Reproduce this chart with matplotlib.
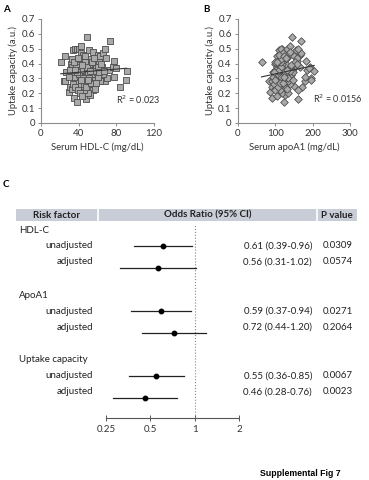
import numpy as np
import matplotlib.pyplot as plt
from matplotlib.patches import Rectangle

plt.rcParams['font.family'] = ['Lato', 'DejaVu Sans']

# scatter data: serum HDL-C, serum apoA1, uptake capacity
hdl = [21, 26, 24, 25, 27, 30, 31, 33, 34, 35, 36, 38, 38, 40, 43, 49, 48, 51, 55, 55,
       60, 63, 66, 68, 69, 73, 68, 70, 72, 76, 78, 78, 84, 90, 91, 80, 65, 58, 57, 55,
       52, 50, 46, 32, 33, 34, 35, 36, 37, 38, 39, 40, 41, 42, 43, 44, 45, 46, 47, 48,
       49, 50, 51, 52, 53, 54, 56, 57, 58, 59, 60, 62, 63, 64, 66, 34, 36, 39, 41, 44,
       46, 48, 50, 53, 55, 37, 40, 42, 45, 47, 49, 51, 54, 56, 58, 61, 30, 31, 33, 35,
       43, 45, 47, 39, 52, 57, 60, 62, 64, 67, 38, 44, 50, 36, 42]
apoa1 = [63, 104, 82, 90, 95, 86, 92, 98, 110, 92, 117, 122, 115, 130, 138, 144, 160, 155, 138, 157,
         166, 150, 170, 160, 157, 170, 180, 195, 184, 193, 182, 180, 172, 195, 204, 190, 165, 140, 150, 162,
         125, 118, 112, 100, 105, 108, 112, 100, 118, 106, 110, 121, 115, 125, 108, 130, 118, 122, 135, 114,
         128, 140, 120, 132, 145, 126, 136, 118, 148, 130, 142, 152, 135, 145, 128, 96, 126, 100, 135, 104,
         118, 108, 126, 112, 122, 112, 104, 140, 128, 100, 116, 134, 116, 128, 120, 138, 94, 102, 114, 104,
         120, 110, 124, 128, 106, 132, 124, 146, 158, 140, 96, 142, 146, 132, 98]
uptake = [0.41, 0.45, 0.28, 0.28, 0.34, 0.21, 0.24, 0.23, 0.49, 0.17, 0.50, 0.14, 0.50, 0.50, 0.52, 0.58, 0.16, 0.49, 0.48, 0.42,
          0.46, 0.45, 0.47, 0.50, 0.44, 0.55, 0.28, 0.30, 0.36, 0.38, 0.42, 0.31, 0.24, 0.29, 0.35, 0.37, 0.38, 0.30, 0.25, 0.22,
          0.19, 0.20, 0.22, 0.40, 0.38, 0.36, 0.33, 0.30, 0.27, 0.42, 0.39, 0.35, 0.31, 0.28, 0.25, 0.44, 0.40, 0.37, 0.34, 0.31,
          0.28, 0.26, 0.43, 0.39, 0.36, 0.33, 0.29, 0.40, 0.37, 0.34, 0.32, 0.41, 0.28, 0.36, 0.33, 0.26, 0.24, 0.22, 0.20, 0.18,
          0.26, 0.24, 0.33, 0.27, 0.35, 0.38, 0.33, 0.36, 0.30, 0.41, 0.38, 0.30, 0.41, 0.44, 0.27, 0.38, 0.31, 0.36, 0.43, 0.41,
          0.47, 0.46, 0.45, 0.44, 0.35, 0.23, 0.31, 0.34, 0.40, 0.35, 0.34, 0.39, 0.29, 0.36, 0.29]

# forest plot data
groups = ["HDL-C", "ApoA1", "Uptake capacity"]
subrows = ["unadjusted", "adjusted"]
odds = [0.61, 0.56, 0.59, 0.72, 0.55, 0.46]
ci_low = [0.39, 0.31, 0.37, 0.44, 0.36, 0.28]
ci_high = [0.96, 1.02, 0.94, 1.20, 0.85, 0.76]
pvals = ["0.0309", "0.0574", "0.0271", "0.2064", "0.0067", "0.0023"]
or_ticks = [0.25, 0.5, 1, 2]

W, H = 369, 480
fig = plt.figure(figsize=(W / 100, H / 100), dpi=100)


def box(x0, y0, x1, y1):
    # pixel box (top-left origin) -> figure fraction rect
    return [x0 / W, 1 - y1 / H, (x1 - x0) / W, (y1 - y0) / H]


def ftext(x, y, s, **kw):
    fig.text(x / W, 1 - y / H, s, **kw)


spine_col = '#8c8c8c'
fs_tick = 7


def style_scatter(ax, xticks, xlim):
    ax.set_xlim(xlim)
    ax.set_ylim(0, 0.7)
    ax.set_xticks(xticks)
    ax.set_yticks(np.arange(0, 0.71, 0.1))
    ax.set_yticklabels(['0'] + ['%.1f' % v for v in np.arange(0.1, 0.71, 0.1)])
    for s in ['top', 'right']:
        ax.spines[s].set_visible(False)
    for s in ['left', 'bottom']:
        ax.spines[s].set_color(spine_col)
        ax.spines[s].set_linewidth(0.8)
    ax.tick_params(labelsize=fs_tick, length=2.5, width=0.7, color=spine_col,
                   pad=2, colors='#333333')
    ax.set_ylabel("Uptake capacity (a.u.)", fontsize=6.8, labelpad=2, color='#333333')


# Panel A
axA = fig.add_axes(box(41, 19, 154, 123))
axA.scatter(hdl, uptake, marker='s', s=24, facecolor='#a9a9a9', edgecolor='#4d4d4d',
            linewidths=0.6, zorder=2)
c = np.polyfit(hdl, uptake, 1)
xs = np.array([min(hdl), max(hdl)])
axA.plot(xs, np.polyval(c, xs), color='#333333', lw=0.8, zorder=3)
style_scatter(axA, [0, 40, 80, 120], (0, 120))
axA.set_xlabel("Serum HDL-C (mg/dL)", fontsize=6.8, labelpad=3, color='#333333')
axA.text(0.66, 0.18, "R$^2$ = 0.023", transform=axA.transAxes, fontsize=6.5, color='#333333')

# Panel B
axB = fig.add_axes(box(238, 19, 350, 123))
axB.scatter(apoa1, uptake, marker='D', s=15, facecolor='#a9a9a9', edgecolor='#4d4d4d',
            linewidths=0.6, zorder=2)
c = np.polyfit(apoa1, uptake, 1)
xs = np.array([min(apoa1), max(apoa1)])
axB.plot(xs, np.polyval(c, xs), color='#333333', lw=0.8, zorder=3)
style_scatter(axB, [0, 100, 200, 300], (0, 300))
axB.set_xlabel("Serum apoA1 (mg/dL)", fontsize=6.8, labelpad=3, color='#333333')
axB.text(0.67, 0.19, "R$^2$ = 0.0156", transform=axB.transAxes, fontsize=6.5, color='#333333')

ftext(3, 12, "A", fontsize=7, fontweight='bold')
ftext(203, 12, "B", fontsize=7, fontweight='bold')
ftext(3, 187, "C", fontsize=7, fontweight='bold')

# Panel C: header bar
hdr = fig.add_axes([0, 0, 1, 1], zorder=-1)
hdr.set_xlim(0, W)
hdr.set_ylim(H, 0)
hdr.axis('off')
hdr.add_patch(Rectangle((16, 209), 341, 12, facecolor='#c9cdd7', edgecolor='none'))
for xsep in [98, 317]:
    hdr.plot([xsep, xsep], [209, 221], color='white', lw=1.2)
ftext(57, 215, "Risk factor", fontsize=7, fontweight='bold', ha='center', va='center', color='#222222')
ftext(208, 215, "Odds Ratio (95% CI)", fontsize=7, fontweight='bold', ha='center', va='center', color='#222222')
ftext(337, 215, "P value", fontsize=7, fontweight='bold', ha='center', va='center', color='#222222')

# forest axes (y in pixel units from top)
axC = fig.add_axes(box(106, 224, 239, 418))
axC.set_xscale('log', base=2)
axC.set_xlim(0.25, 2)
axC.set_ylim(418, 224)
for s in ['top', 'right', 'left']:
    axC.spines[s].set_visible(False)
axC.spines['bottom'].set_color('#555555')
axC.spines['bottom'].set_linewidth(0.8)
axC.set_yticks([])
axC.set_xticks(or_ticks)
axC.set_xticklabels([str(t) for t in or_ticks])
axC.minorticks_off()
axC.tick_params(axis='x', labelsize=fs_tick, direction='inout', length=4, width=0.7,
                color='#555555', pad=3, colors='#333333')
axC.axvline(1, color='#888888', lw=0.8, ls=':')

row_text_y = []
row_line_y = []
for g, name in enumerate(groups):
    gy = 230 + 65 * g
    ftext(19, gy, name, fontsize=7, va='center', color='#222222')
    for k, sub in enumerate(subrows):
        ty = gy + 16 + 16 * k
        ftext(93, ty, sub, fontsize=7, va='center', ha='right', color='#222222')
        row_text_y.append(ty)
        row_line_y.append(gy + 16 + 22 * k)

for i in range(len(odds)):
    axC.plot([ci_low[i], ci_high[i]], [row_line_y[i]] * 2, color='#222222', lw=0.9,
             clip_on=False)
    axC.plot(odds[i], row_line_y[i], 'o', color='black', ms=3.2, clip_on=False)
    ftext(312, row_text_y[i], "%.2f (%.2f-%.2f)" % (odds[i], ci_low[i], ci_high[i]),
          fontsize=7, va='center', ha='right', color='#222222')
    ftext(323, row_text_y[i], pvals[i], fontsize=7, va='center', ha='left', color='#222222')

ftext(260, 473, "Supplemental Fig 7", fontsize=6.3, fontweight='bold', va='center',
      family=['Liberation Sans', 'DejaVu Sans'])

fig.savefig("out.png", dpi=100)
